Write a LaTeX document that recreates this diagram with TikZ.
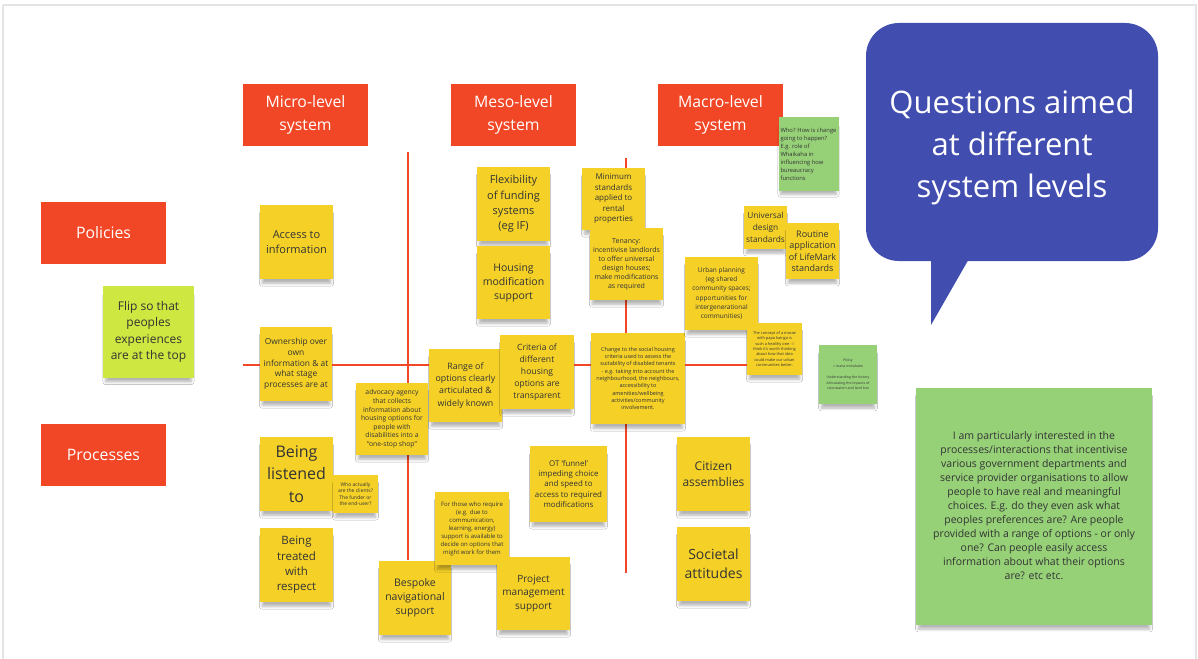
\documentclass[tikz,border=0pt]{standalone}
\usepackage{fontspec}
\setmainfont{Open Sans}
\usetikzlibrary{shadows.blur}

\definecolor{mirored}{HTML}{F24726}
\definecolor{stickyyellow}{HTML}{F5D128}
\definecolor{stickygreen}{HTML}{96D178}
\definecolor{stickylime}{HTML}{CEE741}
\definecolor{callblue}{HTML}{414EAF}
\definecolor{inkgray}{HTML}{333333}
\definecolor{framegray}{HTML}{E4E4E4}

\tikzset{
  note/.style={fill=stickyyellow, text=inkgray, align=center, inner sep=1pt,
    blur shadow={shadow xshift=0pt, shadow yshift=-7pt, shadow blur radius=3pt,
      shadow blur steps=6, shadow opacity=30, shadow scale=#1}},
  note/.default=0.94,
  gnote/.style={note=#1, fill=stickygreen},
  gnote/.default=0.94,
  lnote/.style={note, fill=stickylime},
  sz/.style 2 args={minimum width=#1pt, minimum height=#2pt},
  fs/.style 2 args={font=\fontsize{#1}{#2}\selectfont},
  header/.style={fill=mirored, text=white, align=center, minimum width=125pt,
    minimum height=62pt, inner sep=0pt, font=\fontsize{15.8}{23}\selectfont},
  axisline/.style={draw=mirored, line width=1.3pt},
}

\begin{document}
\begin{tikzpicture}[x=1pt, y=-1pt]
\useasboundingbox (0,0) rectangle (1198,658);
\fill[white] (0,0) rectangle (1198,658);
\draw[framegray, line width=2pt] (2.5,5.5) -- (1195.5,5.5) -- (1195.5,675) (2.5,5.5) -- (2.5,675);

% quadrant axes
\coordinate (v1a) at (408,152); \coordinate (v1b) at (408,560);
\coordinate (v2a) at (626,158); \coordinate (v2b) at (626,573);
\coordinate (ha) at (243,365);  \coordinate (hb) at (790,365);
\draw[axisline] (v1a) -- (v1b);
\draw[axisline] (v2a) -- (v2b);
\draw[axisline] (ha) -- (hb);

% level headers
\node[header] (micro) at (305.5,115) {Micro-level\\system};
\node[header] (meso)  at (513.5,115) {Meso-level\\system};
\node[header] (macro) at (720.5,115) {Macro-level\\system};
\node[header] (pol)   at (103.5,233) {Policies};
\node[header] (proc)  at (103.5,455) {Processes};

% speech bubble
\fill[callblue] (931,250) -- (931,325) -- (974,250) -- cycle;
\fill[callblue, rounded corners=33pt] (866,23) rectangle (1158,261);
\node[text=white, align=center, inner sep=0pt, font=\fontsize{31}{42}\selectfont]
      (bubble) at (1012,147) {Questions aimed\\at different\\system levels};

% micro-level notes
\node[note, sz={73}{74}, fs={11}{15}] (access) at (296.5,242) {Access to\\information};
\node[note, sz={72}{74}, fs={8.4}{10.7}] (owner) at (296,364) {Ownership over\\own\\information \& at\\what stage\\processes are at};
\node[note, sz={73}{74}, fs={16}{22.5}] (listen) at (296.5,474) {Being\\listened\\to};
\node[note=0.9, sz={45}{38}, fs={5}{6.4}] (clients) at (355.5,494) {Who actually\\are the clients?\\The funder or\\the end-user?};
\node[note, sz={73}{74}, fs={11.5}{15.3}] (respect) at (296.5,565) {Being\\treated\\with\\respect};
\node[note, sz={72}{72}, fs={6.8}{8.6}] (advocacy) at (392,419) {advocacy agency\\that collects\\information about\\housing options for\\people with\\disabilities into a\\``one-stop shop''};
\node[note, sz={72}{74}, fs={10.5}{14}] (bespoke) at (415,598) {Bespoke\\navigational\\support};

% meso-level notes
\node[note, sz={73}{74}, fs={11}{15.3}] (flex) at (513.5,204) {Flexibility\\of funding\\systems\\(eg IF)};
\node[note, sz={73}{73}, fs={10.5}{14}] (housing) at (513.5,282.5) {Housing\\modification\\support};
\node[note, sz={73}{73}, fs={8.8}{12.3}] (range) at (465.5,385.5) {Range of\\options clearly\\articulated \&\\widely known};
\node[note, sz={74}{74}, fs={8.6}{12}] (criteria) at (537,372) {Criteria of\\different\\housing\\options are\\transparent};
\node[note, sz={77}{76}, fs={7.9}{10.3}] (funnel) at (568.5,484) {OT `funnel'\\impeding choice\\and speed to\\access to required\\modifications};
\node[note, sz={74}{73}, fs={6}{8}] (forthose) at (472,528.5) {For those who require\\(e.g. due to\\communication,\\learning, energy)\\support is available to\\decide on options that\\might work for them};
\node[note, sz={73}{73}, fs={10}{13.5}] (project) at (533.5,593.5) {Project\\management\\support};
\node[note=0.93, sz={63}{62}, fs={8}{10.5}] (minimum) at (613.5,199) {Minimum\\standards\\applied to\\rental\\properties};
\node[note, sz={73}{72}, fs={7}{9}] (tenancy) at (626.5,264) {Tenancy:\\incentivise landlords\\to offer universal\\design houses;\\make modifications\\as required};
\node[note=0.95, sz={94}{91}, fs={5.5}{7.3}] (change) at (638,378.5) {Change to the social housing\\criteria used to assess the\\suitability of disabled tenants\\- e.g. taking into account the\\neighbourhood, the neighbours,\\accessibility to\\amenities/wellbeing\\activities/community\\involvement.};

% macro-level notes
\node[gnote=0.93, sz={60}{73}, fs={5.8}{8}, align=left] (who) at (808.5,154) {Who? How is change\\going to happen?\\E.g. role of\\Whaikaha in\\influencing how\\bureaucracy\\functions};
\node[note=0.9, sz={43}{43}, fs={8.3}{12}] (universal) at (765.5,227.5) {Universal\\design\\standards};
\node[note=0.92, sz={53}{56}, fs={9}{11.5}] (routine) at (812.5,251) {Routine\\application\\of LifeMark\\standards};
\node[note, sz={73}{73}, fs={6.5}{9.2}] (urban) at (721.5,293.5) {Urban planning\\(eg shared\\community spaces;\\opportunities for\\intergenerational\\communities)};
\node[note=0.92, sz={55}{52}, fs={3.9}{5.3}] (marae) at (774.5,349) {The concept of a marae\\with papa kainga is\\such a healthy one - I\\think it's worth thinking\\about how that idea\\could make our urban\\communities better.};
\node[gnote=0.92, sz={58}{59}, fs={3.5}{5.6}] (policy) at (848,374.5) {Policy\\= mana motuhake\\[5.6pt]Understanding the history\\Articulating the impacts of\\colonisation and land loss};
\node[note, sz={73}{74}, fs={12}{16}] (citizen) at (713.5,474) {Citizen\\assemblies};
\node[note, sz={73}{74}, fs={14}{19}] (societal) at (713.5,564) {Societal\\attitudes};

% side notes
\node[lnote, sz={91}{92}, fs={12}{16.3}] (flip) at (148.5,332) {Flip so that\\peoples\\experiences\\are at the top};
\node[gnote=0.98, sz={236}{237}, fs={10.5}{14}] (interest) at (1034,506) {I am particularly interested in the\\processes/interactions that incentivise\\various government departments and\\service provider organisations to allow\\people to have real and meaningful\\choices. E.g. do they even ask what\\peoples preferences are? Are people\\provided with a range of options - or only\\one? Can people easily access\\information about what their options\\are? etc etc.};
\end{tikzpicture}
\end{document}
